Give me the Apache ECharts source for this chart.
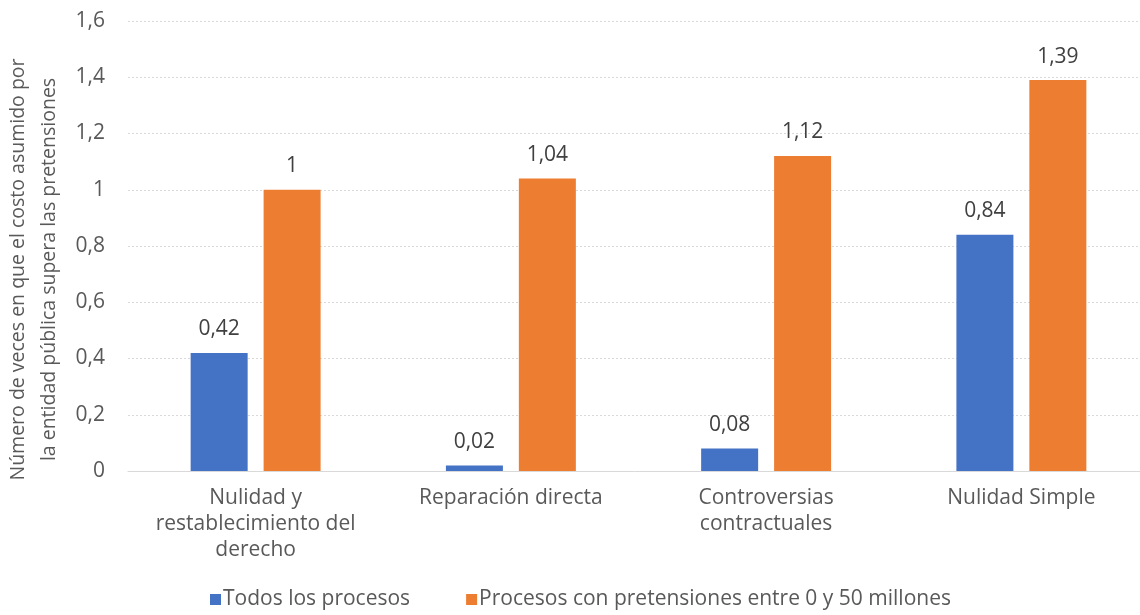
<!DOCTYPE html>
<html><head><meta charset="utf-8">
<script src="https://cdn.jsdelivr.net/npm/echarts@6/dist/echarts.min.js"></script>
<style>html,body{margin:0;padding:0;background:#fff}#c{width:1140px;height:615px}</style>
</head><body><div id="c"></div>
<script>
const categories = ["Nulidad y\nrestablecimiento del\nderecho", "Reparación directa", "Controversias\ncontractuales", "Nulidad Simple"];
const seriesNames = ["Todos los procesos", "Procesos con pretensiones entre 0 y 50 millones"];
const todos = [0.42, 0.02, 0.08, 0.84];
const procesos050 = [1, 1.04, 1.12, 1.39];
const yTitle = "Número de veces en que el costo asumido por\nla entidad pública supera las pretensiones";

const FONT = "Open Sans";
const FS = 21;
const TXT = "#595959";
const fmt = v => String(v).replace('.', ',');
const chart = echarts.init(document.getElementById('c'));
chart.setOption({
  animation: false,
  textStyle: {fontFamily: FONT},
  grid: {left: 128, right: -9, top: 21, bottom: 144, outerBoundsMode: 'none', containLabel: false},
  legend: {
    bottom: 0, left: 205, itemWidth: 11, itemHeight: 11, itemGap: 56,
    icon: 'rect',
    textStyle: {fontFamily: FONT, fontSize: FS, color: TXT, padding: [0,0,0,-3]},
    data: seriesNames
  },
  xAxis: {
    type: 'category', data: categories,
    axisLine: {lineStyle: {color: '#d9d9d9', width: 1}},
    axisTick: {show: false},
    axisLabel: {fontFamily: FONT, fontSize: FS, color: TXT, lineHeight: 26, margin: 14, interval: 0}
  },
  yAxis: {
    type: 'value', min: 0, max: 1.6, interval: 0.2,
    name: yTitle, nameLocation: 'middle', nameGap: 38, nameRotate: 90,
    nameTextStyle: {fontFamily: FONT, fontSize: 19.5, color: TXT, lineHeight: 31, padding: [0, 47, 0, 0]},
    axisLine: {show: false}, axisTick: {show: false},
    splitLine: {lineStyle: {color: '#d9d9d9', type: [2, 2], width: 1}},
    axisLabel: {fontFamily: FONT, fontSize: FS, color: TXT, margin: 23,
      formatter: v => fmt(Math.round(v*10)/10)}
  },
  series: [
    {name: seriesNames[0], type: 'bar', data: todos, barWidth: 57, barGap: '28%',
     itemStyle: {color: '#4472C4'},
     label: {show: true, position: 'top', distance: 13, fontFamily: FONT, fontSize: FS, color: '#404040', formatter: p => fmt(p.value)}},
    {name: seriesNames[1], type: 'bar', data: procesos050, barWidth: 57,
     itemStyle: {color: '#ED7D31'},
     label: {show: true, position: 'top', distance: 13, fontFamily: FONT, fontSize: FS, color: '#404040', formatter: p => fmt(p.value)}}
  ]
});
</script></body></html>
